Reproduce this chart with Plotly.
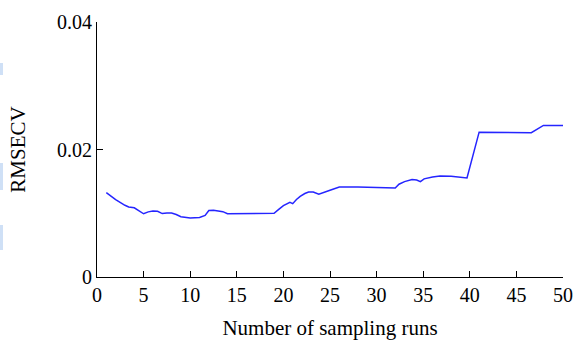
import plotly.graph_objects as go

# RMSECV as a function of the number of sampling runs
runs = [1, 2, 3, 3.4, 4, 4.5, 5, 5.5, 6, 6.5, 7, 7.5, 8, 8.5, 9, 10, 11, 11.6, 12, 12.5, 13, 13.5, 14,
        15, 16, 17, 18, 19, 19.5, 20, 20.7, 21, 21.4, 21.8, 22.3, 22.7, 23.2, 23.8, 25, 26,
        28, 30, 32, 32.4, 33, 33.8, 34.3, 34.7, 35.1, 36, 36.8, 38, 39.7,
        41, 44, 46.6, 47.9, 50]
rmsecv = [0.01323, 0.01213, 0.01125, 0.01098, 0.01085, 0.01045, 0.00992, 0.01022, 0.01035, 0.01030,
          0.00995, 0.01005, 0.01003, 0.00980, 0.00945, 0.00924, 0.00935, 0.00965, 0.01044, 0.01047,
          0.01040, 0.01025, 0.00992, 0.00996, 0.00998, 0.01000, 0.01002, 0.01000, 0.01060, 0.01120,
          0.01170, 0.01150, 0.01215, 0.01265, 0.01310, 0.01334, 0.01333, 0.01298, 0.01360, 0.01413,
          0.01410, 0.01405, 0.01397, 0.01455, 0.01496, 0.01528, 0.01522, 0.01496, 0.01539, 0.01570,
          0.01586, 0.01580, 0.01554, 0.02272, 0.02268, 0.02263, 0.02378, 0.02378]

x_ticks = [0, 5, 10, 15, 20, 25, 30, 35, 40, 45, 50]
y_ticks = [0, 0.02, 0.04]
y_tick_text = ["0", "0.02", "0.04"]

serif = "Liberation Serif"

fig = go.Figure()
fig.add_trace(go.Scatter(x=runs, y=rmsecv, mode="lines",
                         line=dict(color="#2525ff", width=1.5), showlegend=False,
                         hoverinfo="skip"))

# faint bands along the left edge
for y0, y1 in [(63, 75), (163, 190), (225, 250)]:
    fig.add_shape(type="rect", xref="paper", yref="paper",
                  x0=(0 - 97) / 466, x1=(3 - 97) / 466,
                  y0=(277 - y1) / 255, y1=(277 - y0) / 255,
                  fillcolor="#cfe0f6", line_width=0, layer="below")

fig.update_layout(
    width=574, height=340,
    margin=dict(l=97, r=11, t=22, b=63),
    paper_bgcolor="white", plot_bgcolor="white",
    font=dict(family=serif, size=20, color="black"),
)
fig.update_xaxes(range=[0, 50], tickvals=x_ticks, ticks="inside", ticklen=6,
                 tickwidth=1, tickcolor="black", showline=True, linecolor="black",
                 linewidth=1, showgrid=False, zeroline=False, automargin=False,
                 tickfont=dict(family=serif, size=20),
                 title=dict(text="Number of sampling runs", font=dict(family=serif, size=21),
                            standoff=21))
fig.update_yaxes(range=[0, 0.04], tickvals=y_ticks, ticktext=y_tick_text, ticks="inside",
                 ticklen=6, tickwidth=1, tickcolor="black", showline=True, linecolor="black",
                 linewidth=1, showgrid=False, zeroline=False, automargin=False,
                 tickfont=dict(family=serif, size=20),
                 title=dict(text="RMSECV", font=dict(family=serif, size=21), standoff=25))

fig.write_html("out.html")
